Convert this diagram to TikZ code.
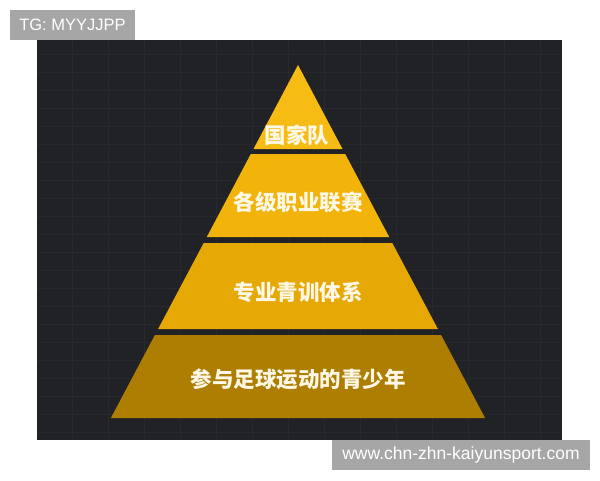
\documentclass[tikz,border=0pt]{standalone}
\usepackage{xcolor}
\usepackage{fontspec}
\setmainfont{Liberation Sans}
\newfontfamily\cjk{Noto Sans CJK SC}
\definecolor{bgdark}{HTML}{212225}
\definecolor{gridgray}{HTML}{29292D}
\definecolor{tagback}{HTML}{A6A6A6}
\definecolor{tierA}{HTML}{F7BC14}
\definecolor{tierB}{HTML}{F2B30A}
\definecolor{tierC}{HTML}{E6A805}
\definecolor{tierD}{HTML}{AE7E03}
\definecolor{labelwhite}{HTML}{FFF8E6}

\begin{document}
\begin{tikzpicture}[x=1pt, y=-1pt,
  tierlabel/.style={text=labelwhite, font=\cjk\bfseries\fontsize{21.5}{24}\selectfont, inner sep=0pt},
  tagtext/.style={text=white, font=\fontsize{16.5}{19}\selectfont, inner sep=0pt}]
 \useasboundingbox (0,0) rectangle (600,480);
 \fill[white] (0,0) rectangle (600,480);

 % dark board with faint grid
 \fill[bgdark] (37,40) rectangle (562,440);
 \draw[gridgray, line width=0.8pt] (37,40) grid[xstep=36pt, ystep=18pt] (562,440);

 % pyramid corners
 \coordinate (A) at (298,65);
 \coordinate (B1) at (253.5,149);  \coordinate (C1) at (342.5,149);
 \coordinate (B2) at (250.8,154);  \coordinate (C2) at (345.2,154);
 \coordinate (D2) at (206.8,237);  \coordinate (E2) at (389.2,237);
 \coordinate (B3) at (203.7,243);  \coordinate (C3) at (392.3,243);
 \coordinate (D3) at (158.1,329);  \coordinate (E3) at (437.9,329);
 \coordinate (B4) at (154.9,335);  \coordinate (C4) at (441.1,335);
 \coordinate (D4) at (110.9,418);  \coordinate (E4) at (485.1,418);

 \fill[tierA] (A) -- (C1) -- (B1) -- cycle;
 \fill[tierB] (B2) -- (C2) -- (E2) -- (D2) -- cycle;
 \fill[tierC] (B3) -- (C3) -- (E3) -- (D3) -- cycle;
 \fill[tierD] (B4) -- (C4) -- (E4) -- (D4) -- cycle;

 \node[tierlabel] (top) at (297,135) {国家队};
 \node[tierlabel] (league) at (298,202) {各级职业联赛};
 \node[tierlabel] (academy) at (298,292) {专业青训体系};
 \node[tierlabel] (youth) at (298,379) {参与足球运动的青少年};

 % watermark tags
 \fill[tagback] (10,10) rectangle (135,40);
 \node[tagtext] (tg) at (72.5,25) {TG: MYYJJPP};
 \fill[tagback] (332,440) rectangle (590,470);
 \node[tagtext, font=\fontsize{17.5}{20}\selectfont] (site) at (461,455) {www.chn-zhn-kaiyunsport.com};
\end{tikzpicture}
\end{document}
